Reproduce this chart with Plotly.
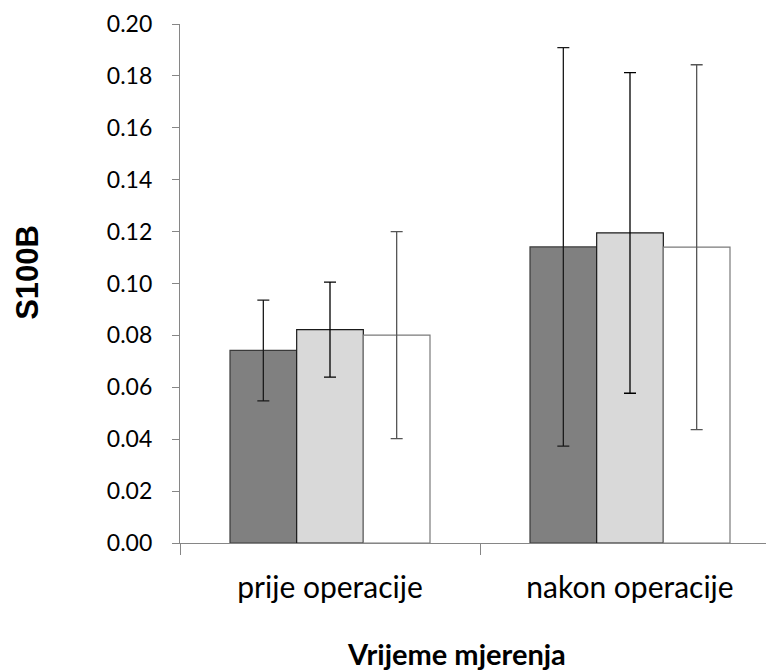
import plotly.graph_objects as go

categorias = ["prije operacije", "nakon operacije"]
grupe = ["Grupa 1", "Grupa 2", "Grupa 3"]

medias = [
    [0.0742, 0.1141],
    [0.0822, 0.1195],
    [0.0801, 0.1140],
]
erros = [
    [0.0194, 0.0768],
    [0.0183, 0.0618],
    [0.0399, 0.0703],
]

cores = ["#808080", "#d9d9d9", "#ffffff"]
bordas = ["#3a3a3a", "#1a1a1a", "#7a7a7a"]
cores_erro = ["#1a1a1a", "#000000", "#555555"]

yticks = [0.00, 0.02, 0.04, 0.06, 0.08, 0.10, 0.12, 0.14, 0.16, 0.18, 0.20]

fig = go.Figure()
for i, nome in enumerate(grupe):
    fig.add_trace(go.Bar(
        name=nome,
        x=categorias,
        y=medias[i],
        marker=dict(color=cores[i], line=dict(color=bordas[i], width=1.2)),
        error_y=dict(type="data", array=erros[i], visible=True,
                     color=cores_erro[i], thickness=1.3, width=6),
    ))

# a página tem 8px de margem no body, por isso o gráfico é um pouco menor
EIXO = "#868686"
fig.update_layout(
    width=766,
    height=663,
    barmode="group",
    bargap=1 / 3,
    bargroupgap=0,
    showlegend=False,
    plot_bgcolor="white",
    paper_bgcolor="white",
    margin=dict(l=172, r=0, t=16, b=128),
    font=dict(family="Lato, sans-serif", color="#000000"),
    xaxis=dict(
        range=[-0.5, 1.48],
        showline=True, linecolor=EIXO, linewidth=1.3,
        ticks="outside", tickson="boundaries", ticklen=11, tickcolor=EIXO, tickwidth=1.3,
        tickfont=dict(size=30),
        ticklabelstandoff=18,
        showgrid=False, zeroline=False,
    ),
    yaxis=dict(
        range=[0, 0.2],
        tickvals=yticks,
        ticktext=[f"{v:.2f}" for v in yticks],
        showline=True, linecolor=EIXO, linewidth=1.3,
        ticks="outside", ticklen=7, tickcolor=EIXO, tickwidth=1.3,
        tickfont=dict(size=23),
        ticklabelstandoff=15,
        showgrid=False, zeroline=False,
    ),
    annotations=[
        dict(text="<b>Vrijeme mjerenja</b>", xref="paper", yref="paper",
             x=0.466, y=-0.212, xanchor="center", yanchor="middle",
             showarrow=False, font=dict(size=29, family="Lato, sans-serif")),
        dict(text="<b>S100B</b>", xref="paper", yref="paper",
             x=-0.258, y=0.522, xanchor="center", yanchor="middle", textangle=-90,
             showarrow=False, font=dict(size=31, family="Liberation Sans, Arial, sans-serif")),
    ],
)

fig.write_html("out.html")
